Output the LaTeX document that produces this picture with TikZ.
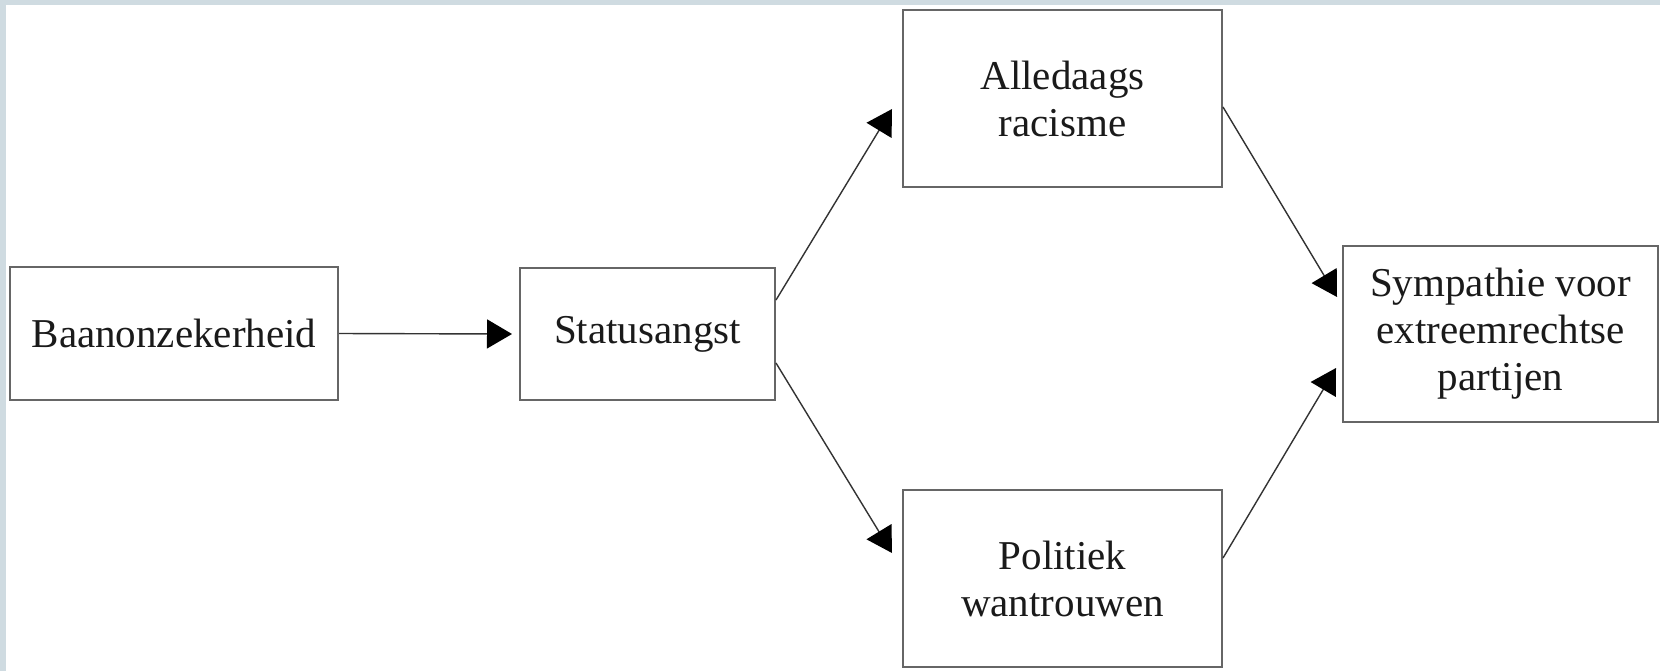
\documentclass[tikz,border=0pt]{standalone}
\usepackage{fontspec}
\setmainfont{Liberation Serif}
\usetikzlibrary{arrows.meta,calc}
\definecolor{framecol}{HTML}{CFDBE1}
\definecolor{boxline}{HTML}{666666}
\definecolor{arrline}{HTML}{333333}
\definecolor{txt}{HTML}{1A1A1A}
\tikzset{
  box/.style={draw=boxline, line width=1pt, fill=white, text=txt, align=center,
    inner sep=0pt, font=\fontsize{20.5}{23.5}\selectfont},
  conn/.style={draw=arrline, line width=0.7pt,
    -{Triangle[length=12.5pt,width=14.5pt,color=black]}}
}
\begin{document}
\begin{tikzpicture}[x=0.5pt,y=-0.5pt]
\useasboundingbox (0,0) rectangle (1660,671);
\fill[framecol] (0,0) rectangle (1660,671);
\fill[white] (6,5) rectangle (1660,671);

\node[box, minimum width=164pt, minimum height=66.5pt] (B1) at (174,333.5) {Baanonzekerheid};
\node[box, minimum width=127.5pt, minimum height=66pt] (B2) at (647.5,334) {Statusangst};
\node[box, minimum width=159.5pt, minimum height=88.5pt] (B3) at (1062.5,98.5) {Alledaags\\racisme};
\node[box, minimum width=159.5pt, minimum height=88.5pt] (B4) at (1062.5,578.5) {Politiek\\wantrouwen};
\node[box, minimum width=157.5pt, minimum height=88pt] (B5) at (1500.5,334) {Sympathie voor\\extreemrechtse\\partijen};

\draw[conn] (B1.east) -- ($(B2.west)+(-7,0)$);
\draw[conn] ($(B2.east)+(0,-34)$) -- ($(B3.west)+(-10,10.5)$);
\draw[conn] ($(B2.east)+(0,29)$) -- ($(B4.west)+(-10,-25.5)$);
\draw[conn] ($(B3.east)+(0,8.5)$) -- ($(B5.west)+(-5,-37)$);
\draw[conn] ($(B4.east)+(0,-20.5)$) -- ($(B5.west)+(-6,34)$);
\end{tikzpicture}
\end{document}
